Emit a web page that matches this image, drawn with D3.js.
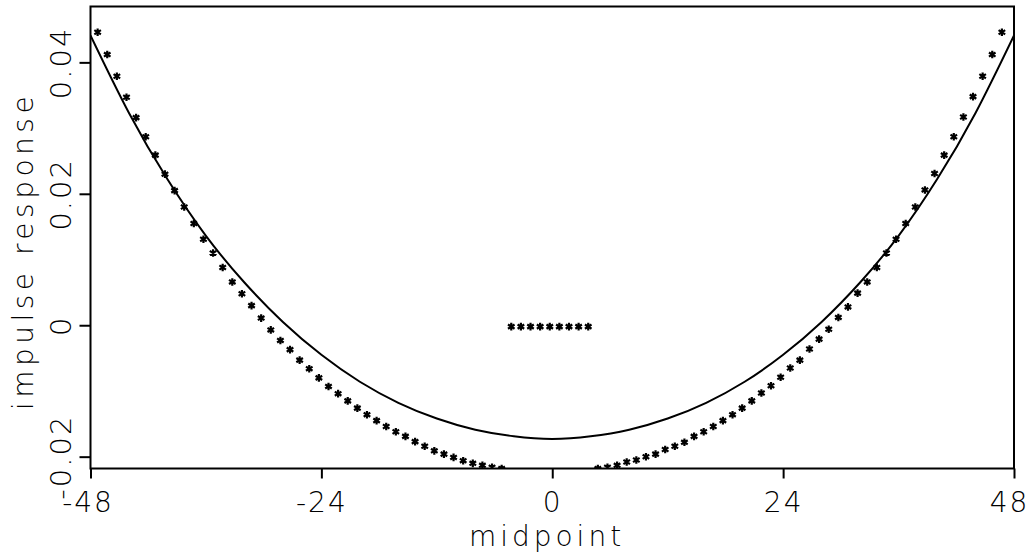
<!DOCTYPE html>
<html>
<head>
<meta charset="utf-8">
<script src="https://cdn.jsdelivr.net/npm/d3@7"></script>
<style>
  html, body { margin: 0; padding: 0; background: #fff; }
  svg { display: block; }
  text { font-family: "DejaVu Sans", sans-serif; font-weight: 200; fill: #000; }
</style>
</head>
<body>
<svg id="chart" width="1032" height="557"></svg>
<script>
// ---- data ----
const xTicks = [-48, -24, 0, 24, 48];
const xTickLabels = ["-48", "-24", "0", "24", "48"];
const yTicks = [-0.02, 0, 0.02, 0.04];
const yTickLabels = ["-0.02", "0", "0.02", "0.04"];

// solid curve (read at every 4 units of midpoint)
const curveX = [-48, -44, -40, -36, -32, -28, -24, -20, -16, -12, -8, -4, 0,
                4, 8, 12, 16, 20, 24, 28, 32, 36, 40, 44, 48];
const curveY = [0.0441, 0.0323, 0.0222, 0.0136, 0.0065, 0.0005, -0.0045, -0.0086, -0.0118, -0.0142, -0.0159, -0.0169, -0.0173,
                -0.0169, -0.0159, -0.0142, -0.0118, -0.0086, -0.0045, 0.0005, 0.0065, 0.0136, 0.0222, 0.0323, 0.0441];

// star markers (impulse response at each midpoint)
const starX = [-47, -46, -45, -44, -43, -42, -41, -40, -39, -38, -37, -36, -35, -34, -33, -32, -31, -30, -29, -28,
               -27, -26, -25, -24, -23, -22, -21, -20, -19, -18, -17, -16, -15, -14, -13, -12, -11, -10, -9, -8,
               -7, -6, -5, -4, -3, -2, -1, 0, 1, 2, 3, 4, 5, 6, 7, 8, 9, 10, 11, 12, 13, 14, 15, 16, 17, 18,
               19, 20, 21, 22, 23, 24, 25, 26, 27, 28, 29, 30, 31, 32, 33, 34, 35, 36, 37, 38, 39, 40, 41, 42,
               43, 44, 45, 46, 47];
const starY = [0.0448, 0.0414, 0.0381, 0.0349, 0.0318, 0.0289, 0.0261, 0.0232, 0.0207, 0.0182, 0.0157, 0.0133,
               0.0112, 0.0090, 0.0068, 0.0050, 0.0032, 0.0013, -0.0005, -0.0021, -0.0035, -0.0051, -0.0064, -0.0078,
               -0.0091, -0.0102, -0.0113, -0.0124, -0.0134, -0.0143, -0.0152, -0.0160, -0.0167, -0.0175, -0.0182,
               -0.0189, -0.0194, -0.0199, -0.0204, -0.0208, -0.0211, -0.0214, -0.0216,
               0, 0, 0, 0, 0, 0, 0, 0, 0,
               -0.0216, -0.0214, -0.0211, -0.0206, -0.0203, -0.0198, -0.0194, -0.0187, -0.0182, -0.0176, -0.0167,
               -0.0160, -0.0152, -0.0143, -0.0134, -0.0124, -0.0113, -0.0101, -0.0090, -0.0077, -0.0063, -0.0051,
               -0.0034, -0.0019, -0.0004, 0.0014, 0.0030, 0.0051, 0.0068, 0.0090, 0.0112, 0.0133, 0.0157, 0.0182,
               0.0208, 0.0233, 0.0261, 0.0289, 0.0319, 0.0350, 0.0381, 0.0414, 0.0448];

const xTitle = "midpoint";
const yTitle = "impulse response";

// ---- layout ----
const svg = d3.select("#chart");
const plot = { left: 90.5, right: 1014, top: 6.5, bottom: 468.5 };

const x = d3.scaleLinear().domain([-48, 48]).range([plot.left, plot.right]);
const y = d3.scaleLinear().domain([-0.0218, 0.0485]).range([plot.bottom, plot.top]);

svg.append("defs").append("clipPath").attr("id", "clip")
  .append("rect")
  .attr("x", plot.left).attr("y", plot.top)
  .attr("width", plot.right - plot.left).attr("height", plot.bottom - plot.top);

// frame
svg.append("rect")
  .attr("x", plot.left).attr("y", plot.top)
  .attr("width", plot.right - plot.left).attr("height", plot.bottom - plot.top)
  .attr("fill", "none").attr("stroke", "#000").attr("stroke-width", 2);

// x axis ticks (outward, below)
const xAxis = d3.axisBottom(x).tickValues(xTicks).tickSize(10).tickPadding(8)
  .tickFormat((d, i) => xTickLabels[i]);
const gx = svg.append("g").attr("transform", `translate(0,${plot.bottom})`).call(xAxis);
gx.select(".domain").remove();
gx.selectAll(".tick line").attr("stroke", "#000").attr("stroke-width", 2);
gx.selectAll(".tick text").attr("font-size", 28).attr("dy", null).attr("y", 43.5)
  .attr("letter-spacing", 2)
  .attr("x", (d, i) => i === xTicks.length - 1 ? -5 : (i === 0 ? -3 : 0))
  .style("font-family", "'DejaVu Sans', sans-serif").style("font-weight", 200);

// y axis ticks (outward, left), rotated labels
const yAxis = d3.axisLeft(y).tickValues(yTicks).tickSize(11).tickFormat((d, i) => yTickLabels[i]);
const gy = svg.append("g").attr("transform", `translate(${plot.left},0)`).call(yAxis);
gy.select(".domain").remove();
gy.selectAll(".tick line").attr("stroke", "#000").attr("stroke-width", 2);
gy.selectAll(".tick text")
  .attr("x", null).attr("dy", null)
  .attr("transform", "translate(-20,0) rotate(-90)")
  .attr("text-anchor", "middle")
  .attr("font-size", 29).attr("letter-spacing", 2)
  .style("font-family", "'DejaVu Sans', sans-serif").style("font-weight", 200);

// titles
svg.append("text")
  .attr("x", 547).attr("y", 546)
  .attr("text-anchor", "middle")
  .attr("font-size", 28).attr("letter-spacing", 4)
  .text(xTitle);

svg.append("text")
  .attr("transform", "translate(33,251) rotate(-90)")
  .attr("text-anchor", "middle")
  .attr("font-size", 28).attr("letter-spacing", 4.5)
  .text(yTitle);

// curve
const line = d3.line().x(d => x(d[0])).y(d => y(d[1])).curve(d3.curveNatural);
svg.append("path")
  .datum(curveX.map((v, i) => [v, curveY[i]]))
  .attr("clip-path", "url(#clip)")
  .attr("d", line)
  .attr("fill", "none").attr("stroke", "#000").attr("stroke-width", 2);

// star markers
const starPath = "M0,-3.8V3.8M-3.3,-2.1L3.3,2.1M-3.3,2.1L3.3,-2.1";
svg.append("g").attr("clip-path", "url(#clip)")
  .selectAll("path.star")
  .data(starX.map((v, i) => [v, starY[i]]))
  .join("path")
  .attr("class", "star")
  .attr("transform", d => `translate(${x(d[0]) - 2.5},${y(d[1]) + 1.4})`)
  .attr("d", starPath)
  .attr("fill", "none").attr("stroke", "#000").attr("stroke-width", 2.2);
</script>
</body>
</html>
